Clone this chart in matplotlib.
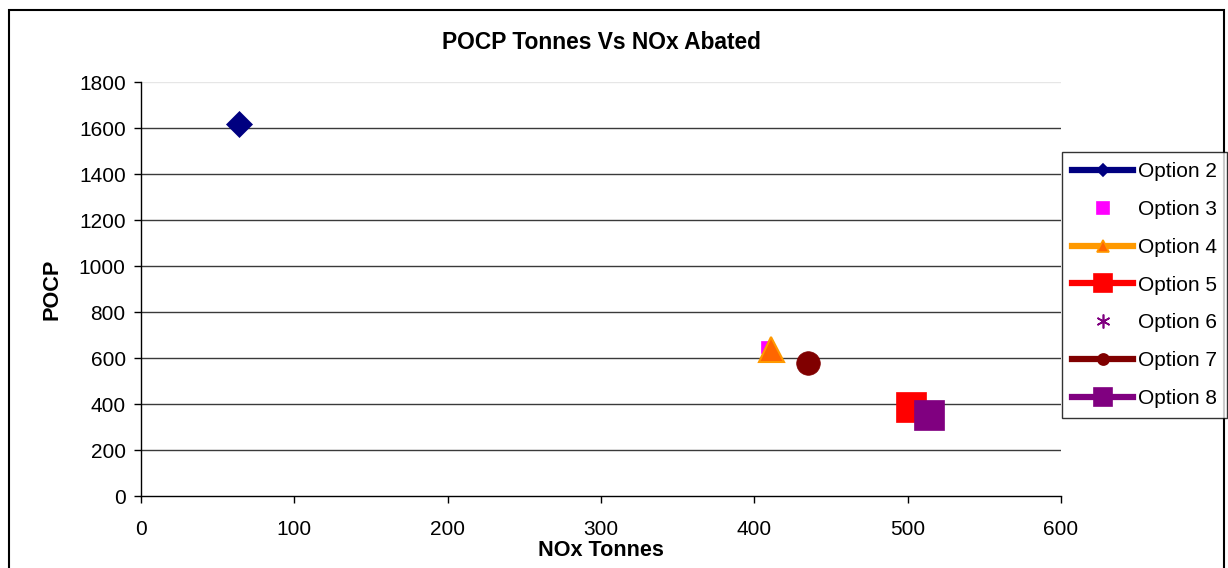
import matplotlib.pyplot as plt
from matplotlib.lines import Line2D
from matplotlib.patches import Rectangle

plt.rcParams['font.family'] = ['Liberation Sans', 'DejaVu Sans']

# NOx tonnes abated vs POCP tonnes for each option
options = ["Option 2", "Option 3", "Option 4", "Option 5", "Option 6", "Option 7", "Option 8"]
nox_tonnes = [64, 408, 411, 502, 513, 435, 514]
pocp_tonnes = [1617, 648, 640, 387, 352, 578, 352]

# styling per option: colour, marker, face colour, edge colour, plot marker size, legend marker size, has line
colors = ["#000080", "#FF00FF", "#FF9900", "#FF0000", "#800080", "#800000", "#800080"]
markers = ["D", "s", "^", "s", "*", "o", "s"]
faces = ["#000080", "#FF00FF", "#FF6600", "#FF0000", "#800080", "#800000", "#800080"]
edges = ["#000080", "#FF00FF", "#FF9900", "#FF0000", "#800080", "#800000", "#800080"]
plot_sizes = [13, 8.5, 18, 21.5, 9, 17, 22]
legend_sizes = [6.5, 8, 9, 13, 10, 8, 13]
has_line = [True, False, True, True, False, True, True]

fig = plt.figure(figsize=(12.28, 5.68), dpi=100)
ax = fig.add_axes([141 / 1228, 1 - 496 / 568, 920 / 1228, 414 / 568])

for i in range(len(options)):
    m = markers[i]
    if m == "*":
        # asterisk-like marker
        ax.plot(nox_tonnes[i], pocp_tonnes[i], linestyle="none", marker=(6, 2, 0),
                markersize=plot_sizes[i], markeredgecolor=edges[i], markeredgewidth=1.5, zorder=3)
    else:
        ax.plot(nox_tonnes[i], pocp_tonnes[i], linestyle="none", marker=m,
                markersize=plot_sizes[i], markerfacecolor=faces[i],
                markeredgecolor=edges[i], markeredgewidth=1.5 if m == "^" else 0.5, zorder=3)

ax.set_xlim(0, 600)
ax.set_ylim(0, 1800)
ax.set_xticks(range(0, 601, 100))
ax.set_yticks(range(0, 1801, 200))
ax.tick_params(direction="out", length=5, width=1, labelsize=15, color="black", pad=6)
ax.tick_params(axis="x", pad=12)
for y in range(200, 1601, 200):
    ax.axhline(y, color="#3a3a3a", linewidth=1, zorder=1)
ax.axhline(1800, color="#e6e6e6", linewidth=1, zorder=1)
ax.spines["top"].set_visible(False)
ax.spines["right"].set_visible(False)
ax.spines["left"].set_linewidth(1)
ax.spines["bottom"].set_linewidth(1)

ax.set_title("POCP Tonnes Vs NOx Abated", fontsize=16.4, fontweight="bold", pad=24)
ax.set_xlabel("NOx Tonnes", fontsize=15.6, fontweight="bold", labelpad=1)
ax.set_ylabel("POCP", fontsize=15.6, fontweight="bold", labelpad=12)

# legend entries
handles = []
for i in range(len(options)):
    m = markers[i] if markers[i] != "*" else (6, 2, 0)
    handles.append(Line2D([], [], color=colors[i], linewidth=4.5 if has_line[i] else 0,
                          linestyle="-" if has_line[i] else "none", marker=m,
                          markersize=legend_sizes[i], markerfacecolor=faces[i],
                          markeredgecolor=edges[i], markeredgewidth=1.2))
leg = fig.legend(handles, options, loc="upper left", bbox_to_anchor=(1062 / 1228, 1 - 152 / 568),
                 fontsize=15, frameon=True, fancybox=False, edgecolor="black",
                 handlelength=2.9, handletextpad=0.25, labelspacing=0.9,
                 borderpad=0.5, borderaxespad=0)
leg.get_frame().set_linewidth(1)

# outer chart border
fig.patches.append(Rectangle((9 / 1228, -0.05), 1215 / 1228, 1.05 - 10 / 568,
                             transform=fig.transFigure, fill=False, edgecolor="black",
                             linewidth=1.5, clip_on=False))

fig.savefig("out.png", dpi=100)
